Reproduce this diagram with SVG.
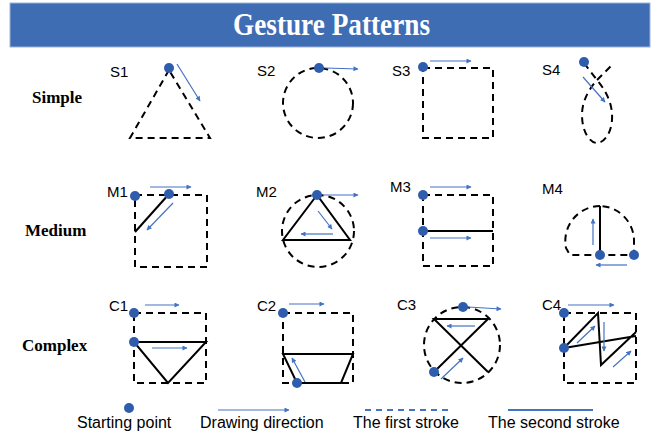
<svg xmlns="http://www.w3.org/2000/svg" width="660" height="436" viewBox="0 0 660 436">
<defs>
<marker id="ah" viewBox="0 0 10 10" refX="9" refY="5" markerWidth="6" markerHeight="5" orient="auto" markerUnits="userSpaceOnUse"><path d="M0,0 L10,5 L0,10 z" fill="#4472C4"/></marker>
</defs>
<style>
.d{fill:none;stroke:#000;stroke-width:2;stroke-dasharray:7,5}
.s{fill:none;stroke:#000;stroke-width:2}
.a{fill:none;stroke:#4472C4;stroke-width:1.2;marker-end:url(#ah)}
.p{fill:#2E5DAD}
.lb{font-family:"Liberation Sans",Arial,sans-serif;font-size:15px;fill:#000}
.rw{font-family:"Liberation Serif","Times New Roman",serif;font-size:17px;font-weight:bold;fill:#000}
.lg{font-family:"Liberation Sans",Arial,sans-serif;font-size:16px;fill:#000}
</style>
<rect width="660" height="436" fill="#fff"/>
<g id="title">
<rect x="10" y="3" width="640" height="44" fill="#3F6DB3" stroke="#9DB3D8" stroke-width="1"/>
<text x="233" y="35" font-family="Liberation Serif,'Times New Roman',serif" font-size="31" font-weight="bold" fill="#fff" textLength="197" lengthAdjust="spacingAndGlyphs">Gesture Patterns</text>
</g>
<g id="rows">
<text class="rw" x="32" y="103">Simple</text>
<text class="rw" x="25" y="236">Medium</text>
<text class="rw" x="22" y="351">Complex</text>
</g>
<g id="S1">
<text class="lb" x="110" y="77">S1</text>
<path class="d" d="M169,70 L130,138 L210,138 Z"/>
<circle class="p" cx="169" cy="68" r="5"/>
</g>
<g id="S2">
<text class="lb" x="257" y="76">S2</text>
<circle class="d" cx="318" cy="103" r="35"/>
<circle class="p" cx="319" cy="68" r="5"/>
</g>
<g id="S3">
<text class="lb" x="392" y="76">S3</text>
<rect class="d" x="423" y="68" width="70" height="70"/>
<circle class="p" cx="423" cy="67" r="5"/>
</g>
<g id="S4">
<text class="lb" x="542" y="75">S4</text>
<path class="d" d="M584,63 L597,80 C607,92 613,105 612,120 C611,135 603,143 597,143 C590,143 582,132 582,115 C582,100 590,88 597,80 L612,65"/>
<circle class="p" cx="584" cy="62" r="5"/>
</g>
<g id="M1">
<text class="lb" x="107" y="197">M1</text>
<rect class="d" x="135" y="195" width="72" height="72"/>
<path class="s" d="M169,194 L135,232"/>
<circle class="p" cx="135" cy="196" r="5"/>
<circle class="p" cx="169" cy="194" r="5"/>
</g>
<g id="M2">
<text class="lb" x="256" y="197">M2</text>
<circle class="d" cx="318" cy="231" r="36"/>
<path class="s" d="M317,195 L283,240 L350,240 Z"/>
<circle class="p" cx="317" cy="195" r="5"/>
</g>
<g id="M3">
<text class="lb" x="390" y="192">M3</text>
<rect class="d" x="423" y="195" width="70" height="71"/>
<path class="s" d="M423,231 L493,231"/>
<circle class="p" cx="423" cy="195" r="5"/>
<circle class="p" cx="423" cy="231" r="5"/>
</g>
<g id="M4">
<text class="lb" x="542" y="194">M4</text>
<path class="d" d="M600,206 A35,35 0 0 0 566,248 L570,255 L634,255 L634,240 A35,35 0 0 0 600,206"/>
<path class="s" d="M600,206 L600,255"/>
<circle class="p" cx="600" cy="255" r="5"/>
<circle class="p" cx="634" cy="255" r="5"/>
</g>
<g id="C1">
<text class="lb" x="109" y="311">C1</text>
<rect class="d" x="134" y="313" width="72" height="70"/>
<path class="s" d="M134,342 L206,342 L168,383 Z"/>
<circle class="p" cx="134" cy="313" r="5"/>
<circle class="p" cx="134" cy="342" r="5"/>
</g>
<g id="C2">
<text class="lb" x="257" y="311">C2</text>
<rect class="d" x="283" y="313" width="70" height="70"/>
<path class="s" d="M283,354 L353,354 L341,383 L297,383 Z"/>
<circle class="p" cx="283" cy="313" r="5"/>
<circle class="p" cx="297" cy="383" r="5"/>
</g>
<g id="C3">
<text class="lb" x="397" y="310">C3</text>
<circle class="d" cx="462" cy="345" r="38"/>
<path class="s" d="M434,372 L488,319 L434,319 L488,372"/>
<circle class="p" cx="463" cy="307" r="5"/>
<circle class="p" cx="434" cy="372" r="5"/>
</g>
<g id="C4">
<text class="lb" x="542" y="310">C4</text>
<rect class="d" x="564" y="313" width="72" height="70"/>
<path class="s" d="M564,348 L598,313 L601,365 L636,332 M564,348 L636,336"/>
<circle class="p" cx="564" cy="313" r="5"/>
<circle class="p" cx="564" cy="348" r="5"/>
</g>
<g id="connectors">
<path class="a" d="M177,64 L200,101"/>
<path class="a" d="M325,68 L358,69"/>
<path class="a" d="M430,61 L471,61"/>
<path class="a" d="M583,77 L605,102"/>
<path class="a" d="M150,187 L191,187"/>
<path class="a" d="M173,203 L147,230"/>
<path class="a" d="M323,195 L358,195"/>
<path class="a" d="M318,211 L332,229"/>
<path class="a" d="M333,234 L301,234"/>
<path class="a" d="M430,187 L471,187"/>
<path class="a" d="M430,238 L471,238"/>
<path class="a" d="M593,245 L593,219"/>
<path class="a" d="M627,265 L596,265"/>
<path class="a" d="M145,305 L179,305"/>
<path class="a" d="M152,348 L187,348"/>
<path class="a" d="M289,304 L324,304"/>
<path class="a" d="M305,382 L292,358"/>
<path class="a" d="M468,307 L501,309"/>
<path class="a" d="M475,326 L447,326"/>
<path class="a" d="M441,379 L463,358"/>
<path class="a" d="M568,305 L614,305"/>
<path class="a" d="M577,343 L595,326"/>
<path class="a" d="M604,322 L604,351"/>
<path class="a" d="M613,367 L631,351"/>
</g>
<g id="legend">
<circle class="p" cx="129" cy="408" r="5"/>
<text class="lg" x="77" y="428">Starting point</text>
<path class="a" d="M218,410 L289,410"/>
<text class="lg" x="200" y="428">Drawing direction</text>
<path d="M365,410 L449,410" fill="none" stroke="#4472C4" stroke-width="2" stroke-dasharray="6,5"/>
<text class="lg" x="353" y="428">The first stroke</text>
<path d="M508,410 L593,410" fill="none" stroke="#4472C4" stroke-width="2"/>
<text class="lg" x="488" y="428">The second stroke</text>
</g>
</svg>
